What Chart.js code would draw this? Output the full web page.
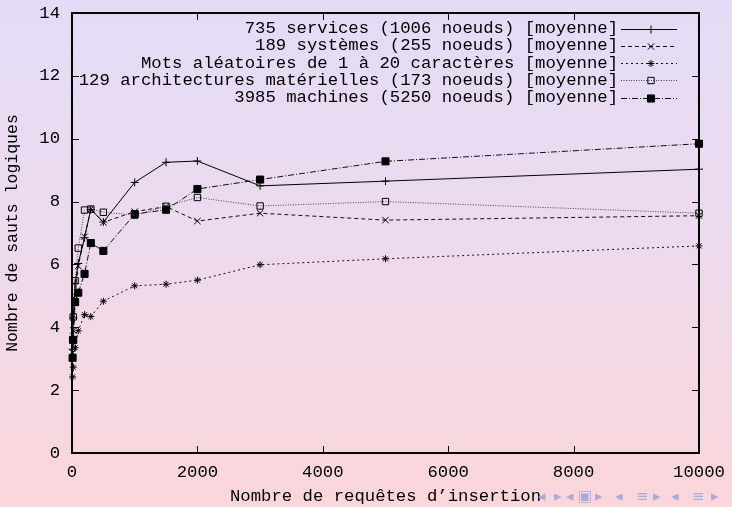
<!DOCTYPE html>
<html>
<head>
<meta charset="utf-8">
<script src="https://cdn.jsdelivr.net/npm/chart.js@4/dist/chart.umd.min.js"></script>
<style>
  html, body { margin: 0; padding: 0; }
  body {
    width: 732px; height: 507px; overflow: hidden; position: relative;
    background: linear-gradient(to bottom, #e3dcf6 0%, #ecdaee 45%, #fbd6da 100%);
  }
  #plot { position: absolute; left: 0; top: 0; }
  .nav { position: absolute; top: 487px; font: 15px "DejaVu Sans", sans-serif; color: #a9acdb; white-space: nowrap; }
</style>
</head>
<body>
<canvas id="plot" width="732" height="507"></canvas>
<span class="nav" style="left:538px">◂</span>
<span class="nav" style="left:554px">▸</span>
<span class="nav" style="left:566px">◂</span>
<span class="nav" style="left:578px">▣</span>
<span class="nav" style="left:595px">▸</span>
<span class="nav" style="left:615px">◂</span>
<span class="nav" style="left:636px">≡</span>
<span class="nav" style="left:653px">▸</span>
<span class="nav" style="left:671px">◂</span>
<span class="nav" style="left:692px">≡</span>
<span class="nav" style="left:711px">▸</span>
<script>
// Nombre de requêtes d'insertion (abscisses communes à toutes les courbes)
const insertions = [10, 20, 50, 100, 200, 300, 500, 1000, 1500, 2000, 3000, 5000, 10000];

// Nombre moyen de sauts logiques pour chaque jeu de données
const services      = [3.30, 4.30, 5.40, 6.03, 6.85, 7.75, 7.35, 8.61, 9.25, 9.29, 8.50, 8.65, 9.03];
const systemes      = [3.20, 3.90, 5.00, 5.95, 6.88, 7.76, 7.34, 7.68, 7.84, 7.38, 7.63, 7.41, 7.55];
const motsAleatoires= [2.42, 2.73, 3.35, 3.89, 4.40, 4.34, 4.83, 5.32, 5.37, 5.50, 5.99, 6.18, 6.59];
const architectures = [3.60, 4.33, 5.48, 6.52, 7.73, 7.76, 7.66, 7.57, 7.85, 8.13, 7.86, 8.00, 7.63];
const machines      = [3.03, 3.60, 4.80, 5.10, 5.70, 6.68, 6.43, 7.60, 7.74, 8.40, 8.70, 9.28, 9.84];

const seriesLabels = [
  '735 services (1006 noeuds) [moyenne]',
  '189 systèmes (255 noeuds) [moyenne]',
  'Mots aléatoires de 1 à 20 caractères [moyenne]',
  '129 architectures matérielles (173 noeuds) [moyenne]',
  '3985 machines (5250 noeuds) [moyenne]'
];

const xTicks = [0, 2000, 4000, 6000, 8000, 10000];
const yTicks = [0, 2, 4, 6, 8, 10, 12, 14];

const MONO = '"Liberation Mono", "DejaVu Sans Mono", monospace';
const TXT = 17.3;

function pts(values) {
  return values.map((v, i) => ({ x: insertions[i], y: v }));
}

function series(label, values, dash, style, radius, fill, color) {
  return {
    label,
    data: pts(values),
    borderColor: color,
    borderWidth: 1,
    borderDash: dash,
    pointStyle: style,
    pointRadius: radius,
    pointHoverRadius: radius,
    pointBorderColor: '#000',
    pointBorderWidth: 1,
    pointBackgroundColor: fill,
    showLine: true,
    fill: false,
    tension: 0,
    clip: false
  };
}

const datasets = [
  series(seriesLabels[0], services,       [],           'cross',    4,   '#000', '#000'),
  series(seriesLabels[1], systemes,       [4, 3],       'crossRot', 4.5, '#000', '#111'),
  series(seriesLabels[2], motsAleatoires, [2, 3],       'star',     3.5, '#000', '#111'),
  series(seriesLabels[3], architectures,  [1, 1.5],     'rect',     4.5, 'rgba(0,0,0,0)', '#444'),
  series(seriesLabels[4], machines,       [6, 2, 1, 2], 'rect',     5,   '#000', '#111')
];

// Cadre fermé avec graduations tournées vers l'intérieur
const frame = {
  id: 'frame',
  beforeDatasetsDraw(chart) {
    const { ctx, chartArea: a, scales: { x, y } } = chart;
    ctx.save();
    ctx.strokeStyle = '#000';
    ctx.lineWidth = 1;
    ctx.beginPath();
    xTicks.forEach(v => {
      const px = Math.round(x.getPixelForValue(v)) + 0.5;
      ctx.moveTo(px, a.bottom); ctx.lineTo(px, a.bottom - 7);
      ctx.moveTo(px, a.top);    ctx.lineTo(px, a.top + 7);
    });
    yTicks.forEach(v => {
      const py = Math.round(y.getPixelForValue(v)) + 0.5;
      ctx.moveTo(a.left, py);  ctx.lineTo(a.left + 7, py);
      ctx.moveTo(a.right, py); ctx.lineTo(a.right - 7, py);
    });
    ctx.stroke();
    ctx.lineWidth = 2;
    ctx.strokeRect(a.left, a.top, a.right - a.left, a.bottom - a.top);
    ctx.restore();
  }
};

// Légende à la gnuplot : texte aligné à droite, puis échantillon du trait et du symbole
const keyBox = {
  id: 'keyBox',
  afterDatasetsDraw(chart) {
    const ctx = chart.ctx;
    const textRight = 618, lineL = 621, lineR = 677, markX = 651;
    ctx.save();
    ctx.font = TXT + 'px ' + MONO;
    ctx.textAlign = 'right';
    ctx.textBaseline = 'middle';
    chart.data.datasets.forEach((ds, i) => {
      const yy = 28.5 + i * 17.3;
      ctx.fillStyle = '#000';
      ctx.fillText(ds.label, textRight, yy);
      const ly = Math.round(yy) + 0.5;
      ctx.beginPath();
      ctx.setLineDash(ds.borderDash || []);
      ctx.strokeStyle = ds.borderColor;
      ctx.lineWidth = 1;
      ctx.moveTo(lineL, ly);
      ctx.lineTo(lineR, ly);
      ctx.stroke();
      ctx.setLineDash([]);
      ctx.fillStyle = ds.pointBackgroundColor;
      ctx.strokeStyle = '#000';
      Chart.helpers.drawPoint(ctx, {
        pointStyle: ds.pointStyle, radius: ds.pointRadius, borderWidth: 1, rotation: 0
      }, markX, ly);
    });
    ctx.restore();
  }
};

Chart.defaults.font.family = MONO;
Chart.defaults.font.size = TXT;
Chart.defaults.color = '#000';

new Chart(document.getElementById('plot'), {
  type: 'scatter',
  data: { datasets },
  options: {
    responsive: false,
    animation: false,
    events: [],
    layout: { padding: { top: 13, right: 33, left: 0, bottom: 0 } },
    plugins: { legend: { display: false }, tooltip: { enabled: false } },
    scales: {
      x: {
        type: 'linear',
        min: 0, max: 10000,
        afterFit(s) { s.height = 54; s.paddingLeft = 0; s.paddingRight = 0; },
        afterBuildTicks(s) { s.ticks = xTicks.map(v => ({ value: v })); },
        ticks: {
          padding: 9, maxRotation: 0, autoSkip: false, color: '#000', font: { size: TXT },
          callback: v => String(v)
        },
        grid: { display: false, drawTicks: false },
        border: { display: false },
        title: {
          display: true,
          text: 'Nombre de requêtes d\u2019insertion',
          color: '#000',
          font: { size: TXT },
          padding: { top: 0, bottom: 0 }
        }
      },
      y: {
        type: 'linear',
        min: 0, max: 14,
        afterFit(s) { s.width = 72; s.paddingTop = 0; s.paddingBottom = 0; },
        afterBuildTicks(s) { s.ticks = yTicks.map(v => ({ value: v })); },
        ticks: {
          padding: 12, color: '#000', font: { size: TXT },
          callback: v => String(v)
        },
        grid: { display: false, drawTicks: false },
        border: { display: false },
        title: {
          display: true,
          text: 'Nombre de sauts logiques',
          color: '#000',
          font: { size: 16.5 },
          padding: { top: 3, bottom: 0 }
        }
      }
    }
  },
  plugins: [frame, keyBox]
});
</script>
</body>
</html>
